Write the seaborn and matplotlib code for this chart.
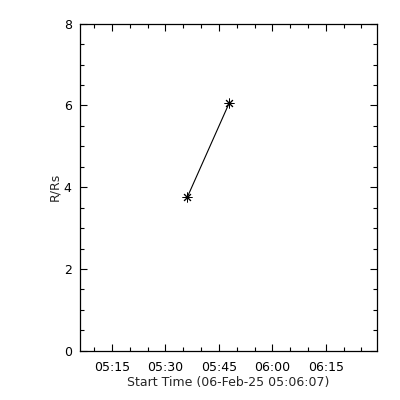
import pandas as pd
import matplotlib
matplotlib.use('Agg')
import matplotlib.pyplot as plt
import matplotlib.dates as mdates
from matplotlib.ticker import MultipleLocator
import seaborn as sns

# data
times = ['2025-02-06 05:36:06', '2025-02-06 05:47:54']
heights = [3.75, 6.06]
x_start = '2025-02-06 05:06:00'
x_end = '2025-02-06 06:29:20'
x_label = 'Start Time (06-Feb-25 05:06:07)'
y_label = 'R/Rs'

df = pd.DataFrame({'time': pd.to_datetime(times), 'r': heights})

sns.set_style('ticks')
plt.rcParams['font.family'] = ['DejaVu Sans']

fig = plt.figure(figsize=(4, 4), dpi=100)
ax = fig.add_axes([0.2, 0.123, 0.742, 0.818])

sns.lineplot(data=df, x='time', y='r', ax=ax, color='black', linewidth=0.8,
             marker=(8, 2, 0), markersize=7, markeredgewidth=0.7,
             markeredgecolor='black')

ax.set_xlim(pd.Timestamp(x_start), pd.Timestamp(x_end))
ax.set_ylim(0, 8)
ax.xaxis.set_major_locator(mdates.MinuteLocator(byminute=[0, 15, 30, 45]))
ax.xaxis.set_minor_locator(mdates.MinuteLocator(byminute=range(0, 60, 5)))
ax.xaxis.set_major_formatter(mdates.DateFormatter('%H:%M'))
ax.yaxis.set_major_locator(MultipleLocator(2))
ax.yaxis.set_minor_locator(MultipleLocator(0.5))

ax.tick_params(which='both', direction='in', top=True, right=True,
               color='black', width=0.8, labelsize=9, labelcolor='black')
ax.tick_params(axis='x', which='major', length=5, pad=7)
ax.tick_params(axis='y', which='major', length=5, pad=6)
ax.tick_params(which='minor', length=3)
for s in ax.spines.values():
    s.set_color('black')
    s.set_linewidth(0.9)

ax.set_xlabel(x_label, fontsize=9, labelpad=2)
ax.set_ylabel(y_label, fontsize=9, labelpad=2)

fig.savefig('out.png', dpi=100, facecolor='white')
